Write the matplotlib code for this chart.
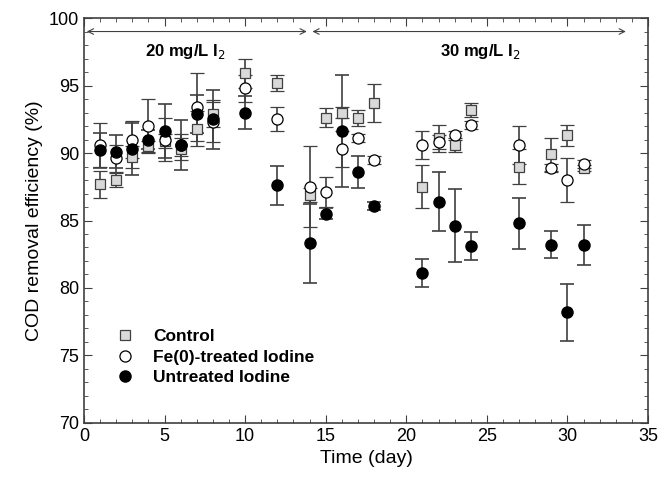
import matplotlib.pyplot as plt
from matplotlib.ticker import MultipleLocator

plt.rcParams['font.family'] = ['Liberation Sans', 'DejaVu Sans']

days = [1, 2, 3, 4, 5, 6, 7, 8, 10, 12, 14, 15, 16, 17, 18, 21, 22, 23, 24, 27, 29, 30, 31]

control = [87.7, 88.0, 89.7, 90.5, 90.9, 90.3, 91.8, 92.9, 95.9, 95.2, 86.9, 92.6,
           93.0, 92.6, 93.7, 87.5, 91.1, 90.6, 93.2, 89.0, 89.9, 91.3, 88.9]
control_err = [1.0, 0.5, 0.8, 0.4, 0.5, 0.8, 1.3, 1.0, 1.1, 0.6, 0.5, 0.7,
               0.4, 0.6, 1.4, 1.6, 1.0, 0.5, 0.5, 1.3, 1.2, 0.8, 0.2]

fe = [90.6, 89.6, 91.0, 92.0, 91.0, 90.6, 93.4, 92.3, 94.8, 92.5, 87.5, 87.1,
      90.3, 91.1, 89.5, 90.6, 90.8, 91.3, 92.1, 90.6, 88.9, 88.0, 89.2]
fe_err = [1.6, 1.0, 1.4, 2.0, 1.6, 0.8, 2.5, 1.5, 1.0, 0.9, 3.0, 1.1,
          1.3, 0.3, 0.3, 1.05, 0.5, 0.3, 0.3, 1.4, 0.3, 1.6, 0.3]

untreated = [90.2, 90.1, 90.3, 91.0, 91.6, 90.6, 92.9, 92.5, 93.0, 87.6, 83.3, 85.5,
             91.6, 88.6, 86.1, 81.1, 86.4, 84.6, 83.1, 84.8, 83.2, 78.2, 83.2]
untreated_err = [1.3, 1.2, 1.9, 0.7, 2.0, 1.85, 1.4, 2.2, 1.2, 1.45, 2.9, 0.4,
                 4.15, 1.2, 0.3, 1.05, 2.2, 2.7, 1.05, 1.9, 1.0, 2.1, 1.5]

fig = plt.figure(figsize=(6.69, 4.78), dpi=100)
ax = fig.add_axes([0.1256, 0.1151, 0.843, 0.8472])

ecol = '#404040'
ax.errorbar(days, control, yerr=control_err, fmt='s', ms=6.5, mfc='#d9d9d9', mec='#404040',
            mew=0.9, ecolor=ecol, elinewidth=1.2, capsize=5, capthick=1.2, label='Control')
ax.errorbar(days, fe, yerr=fe_err, fmt='o', ms=8, mfc='white', mec='black',
            mew=0.9, ecolor=ecol, elinewidth=1.2, capsize=5, capthick=1.2, label='Fe(0)-treated Iodine')
ax.errorbar(days, untreated, yerr=untreated_err, fmt='o', ms=8, mfc='black', mec='black',
            ecolor=ecol, elinewidth=1.2, capsize=5, capthick=1.2, label='Untreated Iodine')

# dose period arrows
ax.annotate('', xy=(0, 99), xytext=(14, 99),
            arrowprops=dict(arrowstyle='<->', color='#404040', lw=0.8))
ax.annotate('', xy=(14, 99), xytext=(33.8, 99),
            arrowprops=dict(arrowstyle='<->', color='#404040', lw=0.8))
ax.text(6.3, 97.5, '20 mg/L I$_2$', ha='center', va='center', fontsize=12, fontweight='bold')
ax.text(24.6, 97.5, '30 mg/L I$_2$', ha='center', va='center', fontsize=12, fontweight='bold')

ax.set_xlim(0, 35)
ax.set_ylim(70, 100)
ax.xaxis.set_major_locator(MultipleLocator(5))
ax.xaxis.set_minor_locator(MultipleLocator(1))
ax.yaxis.set_major_locator(MultipleLocator(5))
ax.yaxis.set_minor_locator(MultipleLocator(1))
ax.tick_params(which='both', direction='in', top=True, right=True, labelsize=13, color='#404040')
ax.tick_params(which='major', length=6)
ax.tick_params(which='minor', length=3)
for s in ax.spines.values():
    s.set_color('#404040')
    s.set_linewidth(1.2)

ax.set_xlabel('Time (day)', fontsize=14)
ax.set_ylabel('COD removal efficiency (%)', fontsize=14)

handles, labels = ax.get_legend_handles_labels()
handles = [h[0] for h in handles]
ax.legend(handles, labels, loc='lower left', bbox_to_anchor=(0.03, 0.055), frameon=False,
          prop={'weight': 'bold', 'size': 12.5}, handlelength=1.0, handletextpad=1.1,
          labelspacing=0.3)

fig.savefig('out.png', dpi=100)
